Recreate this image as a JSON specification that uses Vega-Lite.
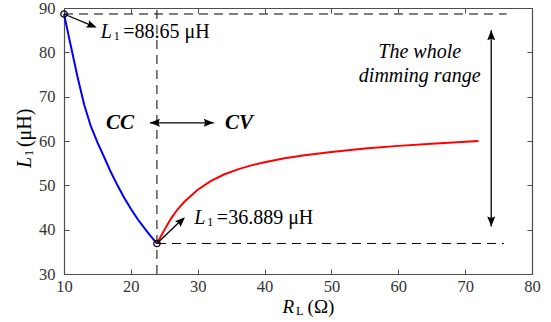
{
  "$schema": "https://vega.github.io/schema/vega-lite/v6.json",
  "width": 468,
  "height": 266,
  "autosize": {"type": "none"},
  "padding": {"left": 64, "top": 8, "right": 19, "bottom": 48},
  "background": "white",
  "config": {
    "font": "Liberation Serif",
    "view": {"stroke": null},
    "axis": {"labelFont": "Liberation Serif", "labelFontSize": 16.5, "labelColor": "#333333", "domainColor": "#4d4d4d", "tickColor": "#4d4d4d", "domainWidth": 1.2, "tickWidth": 1, "tickSize": -5, "grid": false, "title": null, "labelFlush": false, "labelOverlap": false, "labelBound": false},
    "text": {"font": "Liberation Serif", "fontSize": 20, "color": "black"}
  },
  "datasets": {
    "blue": [
      {"R": 10, "L": 88.65}, {"R": 11, "L": 81.6}, {"R": 12, "L": 74.6}, {"R": 13, "L": 68.3},
      {"R": 14, "L": 63.4}, {"R": 15, "L": 59.7}, {"R": 16, "L": 56.4}, {"R": 17, "L": 53.0},
      {"R": 18, "L": 50.0}, {"R": 19, "L": 47.2}, {"R": 20, "L": 44.7}, {"R": 21, "L": 42.4},
      {"R": 22, "L": 40.4}, {"R": 23, "L": 38.5}, {"R": 23.9, "L": 36.889}
    ],
    "red": [
      {"R": 23.9, "L": 36.889}, {"R": 25, "L": 39.9}, {"R": 26, "L": 42.5}, {"R": 27, "L": 44.6},
      {"R": 28, "L": 46.3}, {"R": 30, "L": 49.0}, {"R": 32, "L": 51.0}, {"R": 34, "L": 52.5},
      {"R": 36, "L": 53.6}, {"R": 38, "L": 54.5}, {"R": 40, "L": 55.2}, {"R": 43, "L": 56.1},
      {"R": 46, "L": 56.8}, {"R": 50, "L": 57.5}, {"R": 55, "L": 58.3}, {"R": 60, "L": 58.9},
      {"R": 65, "L": 59.4}, {"R": 72, "L": 60.0}
    ]
  },
  "layer": [
    {
      "data": {"values": [{"R": 23.9, "L": 30, "L2": 90}]},
      "mark": {"type": "rule", "strokeDash": [9, 6], "color": "black", "strokeWidth": 1},
      "encoding": {
        "x": {"field": "R", "type": "quantitative", "scale": {"domain": [10, 80], "nice": false}, "axis": {"orient": "bottom", "values": [10, 20, 30, 40, 50, 60, 70, 80], "labelPadding": 9, "labelFont": "Liberation Serif", "labelFlush": false, "labelOverlap": false}},
        "y": {"field": "L", "type": "quantitative", "scale": {"domain": [30, 90], "nice": false, "zero": false}, "axis": {"orient": "left", "values": [30, 40, 50, 60, 70, 80, 90], "labelPadding": 14, "labelFont": "Liberation Serif", "labelFlush": false, "labelOverlap": false}},
        "y2": {"field": "L2"}
      }
    },
    {
      "data": {"values": [{"R": 10, "R2": 76.2, "L": 88.65}, {"R": 23.9, "R2": 75.8, "L": 36.889}]},
      "mark": {"type": "rule", "strokeDash": [9, 6], "color": "black", "strokeWidth": 1},
      "encoding": {
        "x": {"field": "R", "type": "quantitative", "scale": {"domain": [10, 80], "nice": false}, "axis": {"orient": "top", "values": [10, 20, 30, 40, 50, 60, 70, 80], "labels": false}},
        "x2": {"field": "R2"},
        "y": {"field": "L", "type": "quantitative", "scale": {"domain": [30, 90], "nice": false, "zero": false}, "axis": {"orient": "right", "values": [30, 40, 50, 60, 70, 80, 90], "labels": false}}
      }
    },
    {
      "data": {"name": "blue"},
      "mark": {"type": "line", "color": "#0000ff", "strokeWidth": 2},
      "encoding": {
        "x": {"field": "R", "type": "quantitative", "axis": null},
        "y": {"field": "L", "type": "quantitative", "axis": null}
      }
    },
    {
      "data": {"name": "red"},
      "mark": {"type": "line", "color": "#ff0000", "strokeWidth": 2},
      "encoding": {
        "x": {"field": "R", "type": "quantitative", "axis": null},
        "y": {"field": "L", "type": "quantitative", "axis": null}
      }
    },
    {
      "data": {"values": [{"R": 10, "L": 88.65, "R2": 14.6, "L2": 85.75}, {"R": 23.9, "L": 36.889, "R2": 27.8, "L2": 42.5}, {"R": 22.85, "L": 64.1, "R2": 32.4, "L2": 64.1}, {"R": 73.9, "L": 40.7, "R2": 73.9, "L2": 85}]},
      "mark": {"type": "rule", "color": "black", "strokeWidth": 1.3},
      "encoding": {
        "x": {"field": "R", "type": "quantitative", "axis": null},
        "y": {"field": "L", "type": "quantitative", "axis": null},
        "x2": {"field": "R2"},
        "y2": {"field": "L2"}
      }
    },
    {
      "data": {"values": [{"R": 10, "L": 88.65}, {"R": 23.9, "L": 36.889}]},
      "mark": {"type": "point", "shape": "circle", "filled": false, "color": "black", "size": 40, "strokeWidth": 1.3, "opacity": 1},
      "encoding": {
        "x": {"field": "R", "type": "quantitative", "axis": null},
        "y": {"field": "L", "type": "quantitative", "axis": null}
      }
    },
    {
      "data": {"values": [{"R": 14.89, "L": 85.58}]},
      "mark": {"type": "point", "shape": "M0,0L-2,-0.8L-1.7,0L-2,0.8Z", "filled": true, "color": "black", "size": 100, "opacity": 1, "angle": 22},
      "encoding": {"x": {"field": "R", "type": "quantitative", "axis": null}, "y": {"field": "L", "type": "quantitative", "axis": null}}
    },
    {
      "data": {"values": [{"R": 28.1, "L": 42.8}]},
      "mark": {"type": "point", "shape": "M0,0L-2,-0.8L-1.7,0L-2,0.8Z", "filled": true, "color": "black", "size": 100, "opacity": 1, "angle": -43.5},
      "encoding": {"x": {"field": "R", "type": "quantitative", "axis": null}, "y": {"field": "L", "type": "quantitative", "axis": null}}
    },
    {
      "data": {"values": [{"R": 22.85, "L": 64.1}]},
      "mark": {"type": "point", "shape": "M0,0L-2,-0.8L-1.7,0L-2,0.8Z", "filled": true, "color": "black", "size": 100, "opacity": 1, "angle": 180},
      "encoding": {"x": {"field": "R", "type": "quantitative", "axis": null}, "y": {"field": "L", "type": "quantitative", "axis": null}}
    },
    {
      "data": {"values": [{"R": 32.4, "L": 64.1}]},
      "mark": {"type": "point", "shape": "M0,0L-2,-0.8L-1.7,0L-2,0.8Z", "filled": true, "color": "black", "size": 100, "opacity": 1, "angle": 0},
      "encoding": {"x": {"field": "R", "type": "quantitative", "axis": null}, "y": {"field": "L", "type": "quantitative", "axis": null}}
    },
    {
      "data": {"values": [{"R": 73.9, "L": 85}]},
      "mark": {"type": "point", "shape": "M0,0L-2,-0.8L-1.7,0L-2,0.8Z", "filled": true, "color": "black", "size": 100, "opacity": 1, "angle": -90},
      "encoding": {"x": {"field": "R", "type": "quantitative", "axis": null}, "y": {"field": "L", "type": "quantitative", "axis": null}}
    },
    {
      "data": {"values": [{"R": 73.9, "L": 40.7}]},
      "mark": {"type": "point", "shape": "M0,0L-2,-0.8L-1.7,0L-2,0.8Z", "filled": true, "color": "black", "size": 100, "opacity": 1, "angle": 90},
      "encoding": {"x": {"field": "R", "type": "quantitative", "axis": null}, "y": {"field": "L", "type": "quantitative", "axis": null}}
    },
    {
      "data": {"values": [{"R": 18.37, "L": 62.8, "t": "CC"}, {"R": 36.16, "L": 62.8, "t": "CV"}]},
      "mark": {"type": "text", "font": "Liberation Serif", "fontSize": 21, "fontWeight": "bold", "fontStyle": "italic", "align": "center", "baseline": "alphabetic"},
      "encoding": {"x": {"field": "R", "type": "quantitative", "axis": null}, "y": {"field": "L", "type": "quantitative", "axis": null}, "text": {"field": "t"}}
    },
    {
      "data": {"values": [{"R": 63.2, "L": 78.7, "t": "The whole"}, {"R": 63.2, "L": 73.25, "t": "dimming range"}]},
      "mark": {"type": "text", "font": "Liberation Serif", "fontSize": 20, "fontStyle": "italic", "align": "center", "baseline": "alphabetic"},
      "encoding": {"x": {"field": "R", "type": "quantitative", "axis": null}, "y": {"field": "L", "type": "quantitative", "axis": null}, "text": {"field": "t"}}
    },
    {
      "data": {"values": [{"R": 15.5, "L": 83.2}, {"R": 29.5, "L": 41.28}]},
      "mark": {"type": "text", "font": "Liberation Serif", "text": "L", "fontSize": 20, "fontStyle": "italic", "align": "left", "baseline": "alphabetic"},
      "encoding": {"x": {"field": "R", "type": "quantitative", "axis": null}, "y": {"field": "L", "type": "quantitative", "axis": null}}
    },
    {
      "data": {"values": [{"R": 15.5, "L": 83.2}, {"R": 29.5, "L": 41.28}]},
      "mark": {"type": "text", "font": "Liberation Serif", "text": "1", "fontSize": 12, "align": "left", "baseline": "alphabetic", "dx": 13, "dy": 2},
      "encoding": {"x": {"field": "R", "type": "quantitative", "axis": null}, "y": {"field": "L", "type": "quantitative", "axis": null}}
    },
    {
      "data": {"values": [{"R": 15.5, "L": 83.2, "t": "=88.65 μH"}, {"R": 29.5, "L": 41.28, "t": "=36.889 μH"}]},
      "mark": {"type": "text", "font": "Liberation Serif", "fontSize": 20, "align": "left", "baseline": "alphabetic", "dx": 22.5},
      "encoding": {"x": {"field": "R", "type": "quantitative", "axis": null}, "y": {"field": "L", "type": "quantitative", "axis": null}, "text": {"field": "t"}}
    },
    {
      "data": {"values": [{"R": 42.7, "L": 21.1}]},
      "mark": {"type": "text", "font": "Liberation Serif", "text": "R", "fontSize": 19, "fontStyle": "italic", "align": "left", "baseline": "alphabetic"},
      "encoding": {"x": {"field": "R", "type": "quantitative", "axis": null}, "y": {"field": "L", "type": "quantitative", "axis": null}}
    },
    {
      "data": {"values": [{"R": 42.7, "L": 21.1}]},
      "mark": {"type": "text", "font": "Liberation Serif", "text": "L", "fontSize": 12.5, "align": "left", "baseline": "alphabetic", "dx": 13.5, "dy": 2},
      "encoding": {"x": {"field": "R", "type": "quantitative", "axis": null}, "y": {"field": "L", "type": "quantitative", "axis": null}}
    },
    {
      "data": {"values": [{"R": 42.7, "L": 21.1}]},
      "mark": {"type": "text", "font": "Liberation Serif", "text": "(Ω)", "fontSize": 19, "align": "left", "baseline": "alphabetic", "dx": 25},
      "encoding": {"x": {"field": "R", "type": "quantitative", "axis": null}, "y": {"field": "L", "type": "quantitative", "axis": null}}
    },
    {
      "data": {"values": [{"R": 5.07, "L": 53.9}]},
      "mark": {"type": "text", "font": "Liberation Serif", "text": "L", "fontSize": 20, "fontStyle": "italic", "align": "left", "baseline": "alphabetic", "angle": -90},
      "encoding": {"x": {"field": "R", "type": "quantitative", "axis": null}, "y": {"field": "L", "type": "quantitative", "axis": null}}
    },
    {
      "data": {"values": [{"R": 5.07, "L": 53.9}]},
      "mark": {"type": "text", "font": "Liberation Serif", "text": "1", "fontSize": 12, "align": "left", "baseline": "alphabetic", "angle": -90, "dx": 12, "dy": 2},
      "encoding": {"x": {"field": "R", "type": "quantitative", "axis": null}, "y": {"field": "L", "type": "quantitative", "axis": null}}
    },
    {
      "data": {"values": [{"R": 5.07, "L": 53.9}]},
      "mark": {"type": "text", "font": "Liberation Serif", "text": "(μH)", "fontSize": 20, "align": "left", "baseline": "alphabetic", "angle": -90, "dx": 21},
      "encoding": {"x": {"field": "R", "type": "quantitative", "axis": null}, "y": {"field": "L", "type": "quantitative", "axis": null}}
    }
  ],
  "resolve": {"axis": {"x": "independent", "y": "independent"}}
}
